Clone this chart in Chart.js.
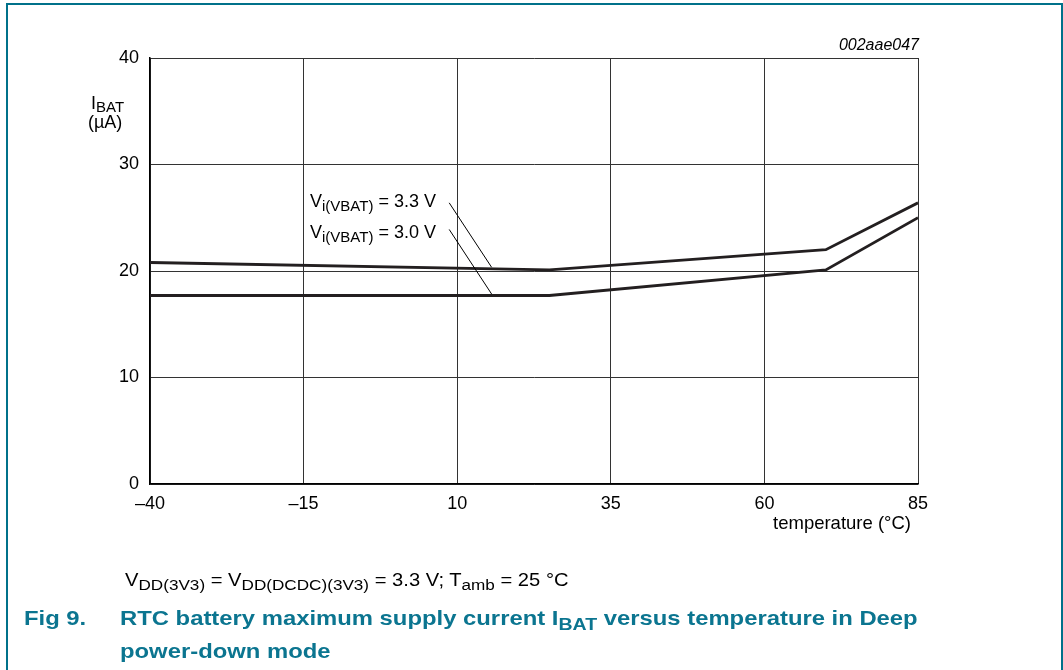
<!DOCTYPE html>
<html>
<head>
<meta charset="utf-8">
<script src="https://cdn.jsdelivr.net/npm/chart.js@4/dist/chart.umd.min.js"></script>
<style>
  html, body { margin: 0; padding: 0; background: #fff; }
  #wrap { position: relative; width: 1063px; height: 670px; overflow: hidden; font-family: "Liberation Sans", Arial, sans-serif; }
  #c { position: absolute; left: 0; top: 0; }
  #frame { position: absolute; left: 6px; top: 3px; width: 1053px; height: 700px; border: 2px solid #00718a; border-bottom: none; }
  .txt { position: absolute; white-space: nowrap; line-height: 1; transform-origin: 0 0; }
  .sub { position: relative; top: 4px; font-size: 0.85em; }
  #note { left: 125px; top: 571px; font-size: 18px; color: #000; transform: scaleX(1.12); }
  .cap { font-size: 21px; font-weight: bold; color: #0b7590; transform: scaleX(1.135); }
  #fig { left: 24px; top: 607px; }
  #cap1 { left: 120px; top: 607px; }
  #cap2 { left: 120px; top: 640px; }
  #cap1 .sub { top: 5px; font-size: 0.82em; }
</style>
</head>
<body>
<div id="wrap">
  <canvas id="c" width="1063" height="670"></canvas>
  <div id="frame"></div>
  <div id="note" class="txt">V<span class="sub">DD(3V3)</span> = V<span class="sub">DD(DCDC)(3V3)</span> = 3.3 V; T<span class="sub">amb</span> = 25 °C</div>
  <div id="fig" class="txt cap">Fig 9.</div>
  <div id="cap1" class="txt cap">RTC battery maximum supply current I<span class="sub">BAT</span> versus temperature in Deep</div>
  <div id="cap2" class="txt cap">power-down mode</div>
</div>
<script>
// ---- data ----
const temps = [-40, 25, 70, 85];
const ibat33 = [20.8, 20.1, 22.0, 26.4];
const ibat30 = [17.7, 17.7, 20.1, 25.0];
const xTicks = [-40, -15, 10, 35, 60, 85];
const xTickLabels = ['\u201340', '\u201315', '10', '35', '60', '85'];
const yTicks = [0, 10, 20, 30, 40];
const yTickLabels = ['0', '10', '20', '30', '40'];
const seriesNames = ['3.3 V', '3.0 V'];

// ---- annotation config (data coordinates) ----
const annotations = [
  { text: seriesNames[0], lx: -13.96, ly: 26.04, from: [8.7, 26.4], to: [15.6, 20.35] },
  { text: seriesNames[1], lx: -13.96, ly: 23.07, from: [8.7, 23.9], to: [15.6, 17.84] }
];

const FONT = '"Liberation Sans", Arial, sans-serif';
const INK = '#231f20';

function drawRich(ctx, parts, x, y, size, subSize, subDrop, italic) {
  let cx = x;
  for (const p of parts) {
    const fs = p.sub ? subSize : size;
    ctx.font = (italic ? 'italic ' : '') + fs + 'px ' + FONT;
    ctx.fillText(p.t, cx, p.sub ? y + subDrop : y);
    cx += ctx.measureText(p.t).width;
  }
}

const overlay = {
  id: 'overlay',
  afterDatasetsDraw(chart) {
    const ctx = chart.ctx;
    const xs = chart.scales.x, ys = chart.scales.y;
    ctx.save();
    ctx.fillStyle = '#000';
    ctx.textBaseline = 'alphabetic';
    ctx.textAlign = 'left';
    // leader lines + labels
    ctx.strokeStyle = '#000';
    ctx.lineWidth = 1;
    for (const a of annotations) {
      ctx.beginPath();
      ctx.moveTo(xs.getPixelForValue(a.from[0]), ys.getPixelForValue(a.from[1]));
      ctx.lineTo(xs.getPixelForValue(a.to[0]), ys.getPixelForValue(a.to[1]));
      ctx.stroke();
      drawRich(ctx, [{ t: 'V' }, { t: 'i(VBAT)', sub: true }, { t: ' = ' + a.text }],
        xs.getPixelForValue(a.lx), ys.getPixelForValue(a.ly), 18, 15, 4);
    }
    // y axis title
    drawRich(ctx, [{ t: 'I' }, { t: 'BAT', sub: true }], 91, 109, 18, 15, 3);
    ctx.font = '18px ' + FONT;
    ctx.fillText('(\u00b5A)', 88, 128);
    // x axis title
    ctx.textAlign = 'right';
    ctx.font = '18.5px ' + FONT;
    ctx.fillText('temperature (\u00b0C)', 911, 529);
    // figure id
    ctx.font = 'italic 16px ' + FONT;
    ctx.fillText('002aae047', 919, 50);
    ctx.restore();
  }
};

const toPts = (xv, yv) => xv.map((v, i) => ({ x: v, y: yv[i] }));

new Chart(document.getElementById('c'), {
  type: 'line',
  data: {
    datasets: [
      { label: seriesNames[0], data: toPts(temps, ibat33), borderColor: INK, borderWidth: 2.8, pointRadius: 0, tension: 0, fill: false },
      { label: seriesNames[1], data: toPts(temps, ibat30), borderColor: INK, borderWidth: 2.8, pointRadius: 0, tension: 0, fill: false }
    ]
  },
  options: {
    responsive: false,
    animation: false,
    events: [],
    layout: { padding: { left: 0, top: 58, right: 145, bottom: 0 } },
    plugins: { legend: { display: false }, tooltip: { enabled: false }, title: { display: false } },
    scales: {
      x: {
        type: 'linear', min: -40, max: 85,
        afterBuildTicks: s => { s.ticks = xTicks.map(v => ({ value: v })); },
        afterFit: s => { s.height = 186; },
        ticks: {
          autoSkip: false, maxRotation: 0, padding: 9, color: '#000',
          font: { family: FONT, size: 18 },
          callback: (v) => { const i = xTicks.indexOf(v); return i >= 0 ? xTickLabels[i] : ''; }
        },
        grid: { color: '#333', lineWidth: 1, drawTicks: false },
        border: { color: '#000', width: 1.5 }
      },
      y: {
        type: 'linear', min: 0, max: 40,
        afterBuildTicks: s => { s.ticks = yTicks.map(v => ({ value: v })); },
        afterFit: s => { s.width = 150; },
        ticks: {
          padding: 11, color: '#000',
          font: { family: FONT, size: 18 },
          callback: (v) => { const i = yTicks.indexOf(v); return i >= 0 ? yTickLabels[i] : ''; }
        },
        grid: { color: '#333', lineWidth: 1, drawTicks: false },
        border: { color: '#000', width: 1.5 }
      }
    }
  },
  plugins: [overlay]
});
</script>
</body>
</html>
